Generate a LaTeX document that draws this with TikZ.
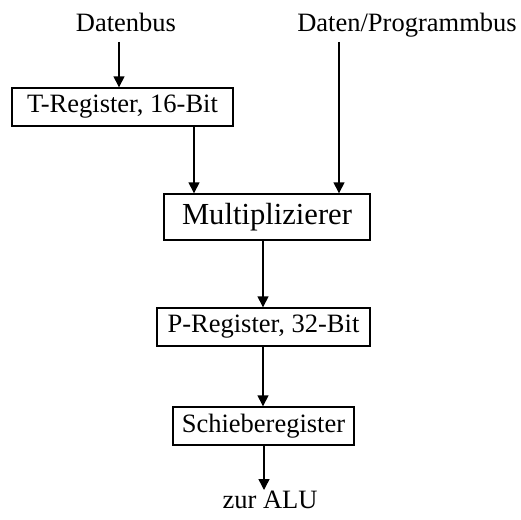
\documentclass[tikz,border=0pt]{standalone}
\usepackage{fontspec}
\setmainfont{Liberation Serif}
\usetikzlibrary{arrows.meta}
\begin{document}
\begin{tikzpicture}[x=1pt,y=-1pt,
  regbox/.style={draw,line width=1.4pt,inner sep=0pt,font=\fontsize{26.5}{30}\selectfont},
  lbl/.style={inner sep=0pt,anchor=base,font=\fontsize{26.5}{30}\selectfont},
  flow/.style={line width=1.4pt,-{Triangle[length=11pt,width=11pt]}}]
\useasboundingbox (0,0) rectangle (521,519);

% bus labels and the result label
\node[lbl] (db) at (126,31) {Datenbus};
\node[lbl] (dpb) at (407,31) {Daten/Programmbus};
\node[lbl] (alu) at (270,508) {zur ALU};

% registers and the multiplier
\node[regbox,minimum width=221pt,minimum height=38pt] (treg) at (122.5,107) {T-Register, 16-Bit};
\node[regbox,minimum width=206pt,minimum height=46pt,font=\fontsize{30.6}{34}\selectfont] (mul) at (267,217) {Multiplizierer};
\node[regbox,minimum width=213pt,minimum height=38pt] (preg) at (263.5,327) {P-Register, 32-Bit};
\node[regbox,minimum width=181pt,minimum height=38pt] (shift) at (263.5,426) {Schieberegister};

% connector end points
\coordinate (dbout) at (119,42);
\coordinate (dpbout) at (339,42);
\coordinate (tout) at (194,0);
\coordinate (mout) at (263,0);
\coordinate (aluin) at (264,490);

\draw[flow] (dbout) -- (dbout |- treg.north);
\draw[flow] (tout |- treg.south) -- (tout |- mul.north);
\draw[flow] (dpbout) -- (dpbout |- mul.north);
\draw[flow] (mout |- mul.south) -- (mout |- preg.north);
\draw[flow] (mout |- preg.south) -- (mout |- shift.north);
\draw[flow] (aluin |- shift.south) -- (aluin);
\end{tikzpicture}
\end{document}
